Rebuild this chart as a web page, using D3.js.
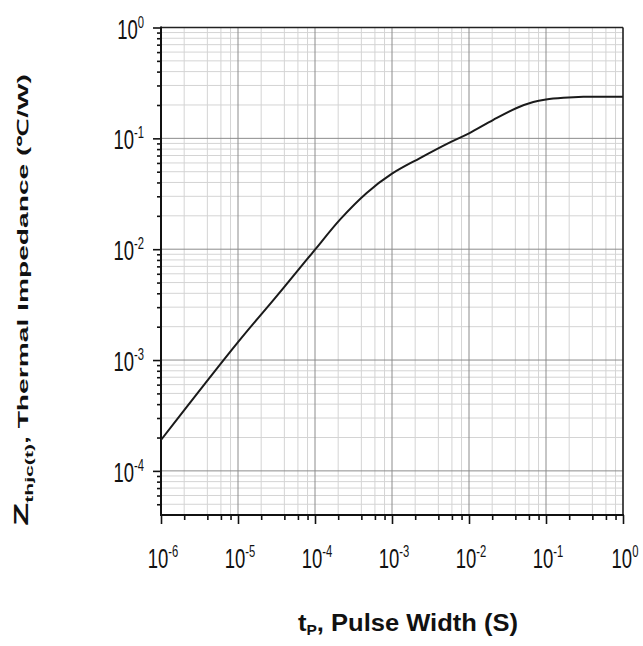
<!DOCTYPE html>
<html>
<head>
<meta charset="utf-8">
<script src="https://cdn.jsdelivr.net/npm/d3@7"></script>
<style>
  body { margin: 0; background: #fff; }
  svg { display: block; }
  text { font-family: "Liberation Sans", Arial, sans-serif; fill: #111; }
</style>
</head>
<body>
<div id="chart"></div>
<script>
// pulse width tP (s) and thermal impedance Zthjc (°C/W)
const pulseWidth = [1e-6, 1e-5, 3.16e-5, 7.8e-5, 1e-4, 2.11e-4, 4.69e-4,
  1e-3, 2.31e-3, 5.66e-3, 1e-2, 2.07e-2, 4.16e-2, 6.84e-2, 1e-1, 1.68e-1, 3.05e-1, 1];
const impedance = [1.9e-4, 1.45e-3, 3.76e-3, 8.04e-3, 9.9e-3, 1.85e-2, 3.22e-2,
  4.8e-2, 6.64e-2, 9.2e-2, 0.111, 0.147, 0.188, 0.213, 0.224, 0.232, 0.237, 0.237];

const xExponents = [-6, -5, -4, -3, -2, -1, 0];
const yExponents = [-4, -3, -2, -1, 0];
const xMinorMultipliers = [2, 4, 6, 8];
const yMinorMultipliers = [2, 3, 4, 5, 6, 7, 8, 9];

const xTitle = 'P, Pulse Width (S)';
const yTitle = ', Thermal Impedance (\u2103/W)';

const cfg = {
  width: 643,
  height: 646,
  margin: { top: 27.5, right: 20, bottom: 131, left: 161 },
  xDomain: [1e-6, 1],
  yDomain: [4e-5, 1]
};

const svg = d3.select('#chart').append('svg')
  .attr('width', cfg.width)
  .attr('height', cfg.height);

const x = d3.scaleLog().domain(cfg.xDomain).range([cfg.margin.left, cfg.width - cfg.margin.right]);
const y = d3.scaleLog().domain(cfg.yDomain).range([cfg.height - cfg.margin.bottom, cfg.margin.top]);

const xMajor = xExponents.map(e => Math.pow(10, e));
const yMajor = yExponents.map(e => Math.pow(10, e));
const xMinor = [];
xExponents.slice(0, -1).forEach(e => xMinorMultipliers.forEach(m => xMinor.push(m * Math.pow(10, e))));
const yMinor = [];
[-5].concat(yExponents.slice(0, -1)).forEach(e => yMinorMultipliers.forEach(m => {
  const v = m * Math.pow(10, e);
  if (v > cfg.yDomain[0] && v < cfg.yDomain[1]) yMinor.push(v);
}));

const x0 = x.range()[0], x1 = x.range()[1];
const yb = y.range()[0], yt = y.range()[1];

// grid: minor first, majors on top
const grid = svg.append('g');
grid.selectAll('.vminor').data(xMinor).enter().append('line')
  .attr('x1', d => x(d)).attr('x2', d => x(d)).attr('y1', yt).attr('y2', yb)
  .attr('stroke', '#d4d4d4').attr('stroke-width', 1);
grid.selectAll('.hminor').data(yMinor).enter().append('line')
  .attr('x1', x0).attr('x2', x1).attr('y1', d => y(d)).attr('y2', d => y(d))
  .attr('stroke', '#d4d4d4').attr('stroke-width', 1);
grid.selectAll('.vmajor').data(xMajor).enter().append('line')
  .attr('x1', d => x(d)).attr('x2', d => x(d)).attr('y1', yt).attr('y2', yb)
  .attr('stroke', '#8c8c8c').attr('stroke-width', 1);
grid.selectAll('.hmajor').data(yMajor).enter().append('line')
  .attr('x1', x0).attr('x2', x1).attr('y1', d => y(d)).attr('y2', d => y(d))
  .attr('stroke', '#8c8c8c').attr('stroke-width', 1);

// axes ticks
svg.append('g').attr('transform', `translate(0,${yb})`)
  .call(d3.axisBottom(x).tickValues(xMinor).tickSize(5).tickFormat(''))
  .call(g => g.select('.domain').remove());
svg.append('g').attr('transform', `translate(0,${yb})`)
  .call(d3.axisBottom(x).tickValues(xMajor).tickSize(9).tickFormat(''))
  .call(g => g.select('.domain').remove());
svg.append('g').attr('transform', `translate(${x0},0)`)
  .call(d3.axisLeft(y).tickValues(yMinor).tickSize(4).tickFormat(''))
  .call(g => g.select('.domain').remove());
svg.append('g').attr('transform', `translate(${x0},0)`)
  .call(d3.axisLeft(y).tickValues(yMajor).tickSize(8).tickFormat(''))
  .call(g => g.select('.domain').remove());
svg.selectAll('.tick line').attr('stroke', '#111').attr('stroke-width', 1.6);

// frame
svg.append('line').attr('x1', x0).attr('x2', x1).attr('y1', yt).attr('y2', yt).attr('stroke', '#222').attr('stroke-width', 1.5);
svg.append('line').attr('x1', x1).attr('x2', x1).attr('y1', yt).attr('y2', yb).attr('stroke', '#222').attr('stroke-width', 1.5);
svg.append('line').attr('x1', x0).attr('x2', x1 + 1).attr('y1', yb).attr('y2', yb).attr('stroke', '#111').attr('stroke-width', 2);
svg.append('line').attr('x1', x0).attr('x2', x0).attr('y1', yt - 1).attr('y2', yb + 1).attr('stroke', '#111').attr('stroke-width', 2);

// curve
const pts = pulseWidth.map((t, i) => [t, impedance[i]]);
svg.append('path')
  .datum(pts)
  .attr('fill', 'none')
  .attr('stroke', '#1a1a1a')
  .attr('stroke-width', 2)
  .attr('d', d3.line().x(d => x(d[0])).y(d => y(d[1])).curve(d3.curveCatmullRom.alpha(0.5)));

// tick labels: 10 with superscript exponent, narrow like the original
function powerLabel(sel) {
  sel.append('tspan').attr('font-size', 28).text('10');
  sel.append('tspan').attr('font-size', 17).attr('dy', -11).text(d => d);
}
svg.selectAll('.xlab').data(xExponents).enter().append('text')
  .attr('transform', d => `translate(${x(Math.pow(10, d)) + 2},568) scale(0.66,1)`)
  .attr('text-anchor', 'middle')
  .call(powerLabel);
svg.selectAll('.ylab').data(yExponents).enter().append('text')
  .attr('transform', d => `translate(144,${y(Math.pow(10, d)) + 11}) scale(0.66,1)`)
  .attr('text-anchor', 'end')
  .call(powerLabel);

// axis titles
const xt = svg.append('text')
  .attr('x', 408).attr('y', 631)
  .attr('text-anchor', 'middle')
  .attr('font-weight', 'bold')
  .attr('font-size', 23)
  .attr('textLength', 220).attr('lengthAdjust', 'spacingAndGlyphs');
xt.append('tspan').text('t');
xt.append('tspan').attr('font-size', 14).attr('dy', 4).text('P');
xt.append('tspan').attr('dy', -4).text(xTitle.slice(1));

const ytl = svg.append('text')
  .attr('transform', 'translate(28,300) rotate(-90) scale(1,0.75)')
  .attr('text-anchor', 'middle')
  .attr('font-weight', 'bold')
  .attr('font-size', 20)
  .attr('textLength', 452).attr('lengthAdjust', 'spacingAndGlyphs');
ytl.append('tspan').attr('font-size', 27).text('Z');
ytl.append('tspan').attr('font-size', 15).attr('dy', 6).text('thjc(t)');
ytl.append('tspan').attr('dy', -6).text(yTitle);
</script>
</body>
</html>
